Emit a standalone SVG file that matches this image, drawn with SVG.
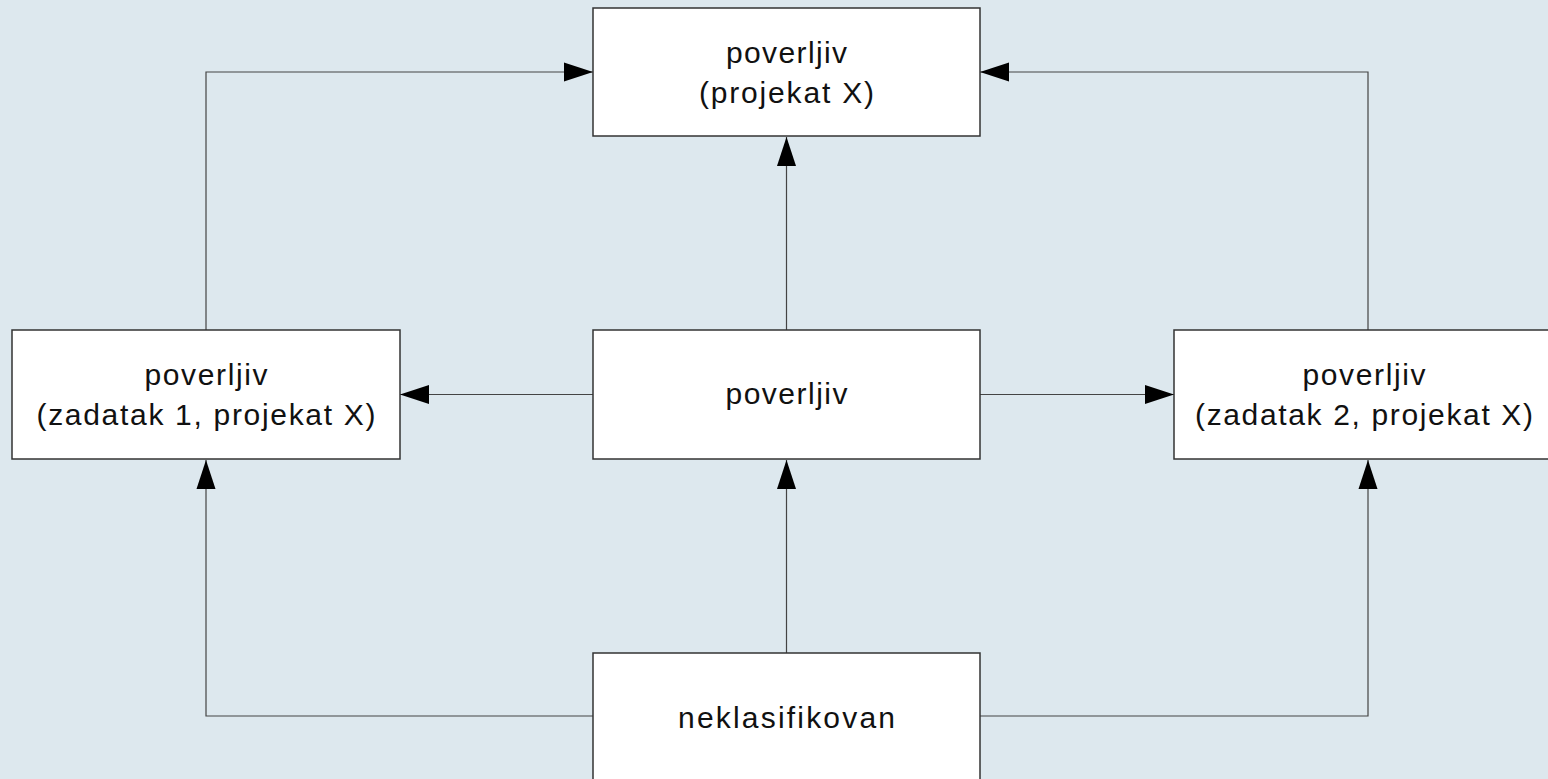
<svg xmlns="http://www.w3.org/2000/svg" width="1548" height="779" viewBox="0 0 1548 779">
<defs>
<marker id="arr" markerUnits="userSpaceOnUse" markerWidth="30" markerHeight="20" viewBox="0 0 30 20" refX="29" refY="10" orient="auto">
<path d="M0,0.5 L29,10 L0,19.5 Z" fill="#000"/>
</marker>
<style>
.box{fill:#fff;stroke:#333;stroke-width:1.5}
.lbl{font-family:"Liberation Sans",Arial,sans-serif;font-size:30px;fill:#111;text-anchor:middle}
.con{fill:none;stroke:#444;stroke-width:1.2}
</style>
</defs>
<rect width="1548" height="779" fill="#dde8ee"/>
<g id="connectors">
<polyline class="con" points="206,330 206,72 593,72" marker-end="url(#arr)"/>
<polyline class="con" points="1368,330 1368,72 980,72" marker-end="url(#arr)"/>
<line class="con" x1="786.5" y1="330" x2="786.5" y2="137" marker-end="url(#arr)"/>
<line class="con" x1="593" y1="394.5" x2="400" y2="394.5" marker-end="url(#arr)"/>
<line class="con" x1="980" y1="394.5" x2="1174" y2="394.5" marker-end="url(#arr)"/>
<line class="con" x1="786.5" y1="653" x2="786.5" y2="460" marker-end="url(#arr)"/>
<polyline class="con" points="593,716 206,716 206,460" marker-end="url(#arr)"/>
<polyline class="con" points="980,716 1368,716 1368,460" marker-end="url(#arr)"/>
</g>
<g id="n-top">
<rect class="box" x="593" y="8" width="387" height="128"/>
<text class="lbl" x="786.5" y="63" textLength="121" lengthAdjust="spacing">poverljiv</text>
<text class="lbl" x="786.5" y="103" textLength="175" lengthAdjust="spacing">(projekat X)</text>
</g>
<g id="n-left">
<rect class="box" x="12" y="330" width="388" height="129"/>
<text class="lbl" x="206" y="385" textLength="123" lengthAdjust="spacing">poverljiv</text>
<text class="lbl" x="206" y="425" textLength="339" lengthAdjust="spacing">(zadatak 1, projekat X)</text>
</g>
<g id="n-mid">
<rect class="box" x="593" y="330" width="387" height="129"/>
<text class="lbl" x="786.5" y="404" textLength="122" lengthAdjust="spacing">poverljiv</text>
</g>
<g id="n-right">
<rect class="box" x="1174" y="330" width="390" height="129"/>
<text class="lbl" x="1364" y="385" textLength="123" lengthAdjust="spacing">poverljiv</text>
<text class="lbl" x="1364" y="425" textLength="338" lengthAdjust="spacing">(zadatak 2, projekat X)</text>
</g>
<g id="n-bottom">
<rect class="box" x="593" y="653" width="387" height="140"/>
<text class="lbl" x="786.5" y="728" textLength="217" lengthAdjust="spacing">neklasifikovan</text>
</g>
</svg>
